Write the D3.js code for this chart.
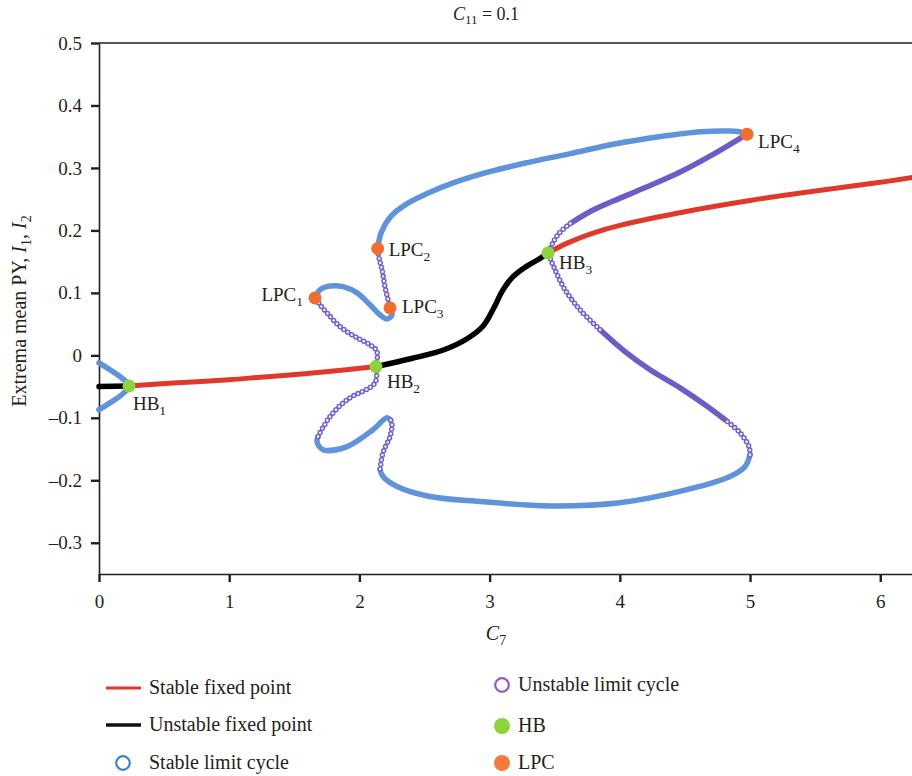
<!DOCTYPE html>
<html>
<head>
  <meta charset="UTF-8">
  <title>Bifurcation diagram C11 = 0.1</title>
  <script src="https://d3js.org/d3.v7.min.js"></script>
  <style>
    body { margin: 0; padding: 0; background: #fff; }
    svg { display: block; font-family: "Liberation Serif", "DejaVu Serif", serif; }
    text { fill: #231f20; }
  </style>
</head>
<body>
<script>
  // ---- data: [C7, extrema] ----
  const xTicks = [0, 1, 2, 3, 4, 5, 6];
  const yTicks = [0.5, 0.4, 0.3, 0.2, 0.1, 0, -0.1, -0.2, -0.3];
  const yTickLabels = ["0.5", "0.4", "0.3", "0.2", "0.1", "0", "\u20130.1", "\u20130.2", "\u20130.3"];

  // fixed points
  const stableFixedA = [[0.23, -0.049], [0.6, -0.044], [1.0, -0.039], [1.24, -0.035], [1.6, -0.029], [1.9, -0.023], [2.127, -0.018]];
  const stableFixedB = [[3.449, 0.164], [3.6, 0.180], [3.8, 0.196], [4.0, 0.208], [4.5, 0.230], [5.0, 0.248],
                        [5.5, 0.263], [6.0, 0.277], [6.25, 0.285]];
  const unstableFixedA = [[0, -0.050], [0.23, -0.049]];
  const unstableFixedB = [[2.127, -0.018], [2.4, -0.005], [2.65, 0.009], [2.83, 0.027], [2.95, 0.047], [3.03, 0.075],
                          [3.1, 0.104], [3.18, 0.126], [3.28, 0.142], [3.37, 0.153], [3.449, 0.164]];

  // stable limit cycles
  const stableCycleHB1 = [[0, -0.012], [0.084, -0.023], [0.174, -0.036], [0.23, -0.049], [0.174, -0.063], [0.084, -0.076], [0, -0.087]];
  const stableCycleLoop = [[1.659, 0.092], [1.697, 0.105], [1.774, 0.111], [1.874, 0.110], [1.982, 0.100], [2.081, 0.081],
                           [2.158, 0.065], [2.212, 0.058], [2.25, 0.065], [2.235, 0.076]];
  const stableCycleUpper = [[2.14, 0.171], [2.17, 0.198], [2.24, 0.222], [2.36, 0.242], [2.52, 0.259], [2.72, 0.276],
                            [3.0, 0.294], [3.3, 0.309], [3.62, 0.323], [3.95, 0.338], [4.3, 0.350], [4.62, 0.358],
                            [4.85, 0.359], [4.977, 0.356]];
  const stableCycleLowA = [[1.682, -0.130], [1.674, -0.138], [1.72, -0.151], [1.905, -0.146], [2.104, -0.119], [2.212, -0.100], [2.24, -0.104]];
  const stableCycleLower = [[2.158, -0.183], [2.181, -0.194], [2.289, -0.210], [2.542, -0.226], [2.926, -0.234], [3.464, -0.241],
                            [4.0, -0.236], [4.516, -0.215], [4.846, -0.194], [4.962, -0.178], [5.0, -0.159]];

  // unstable limit cycles (open circles)
  const unstableCycleUpA = [[2.127, -0.018], [2.135, 0.006], [2.081, 0.017], [1.982, 0.028], [1.851, 0.046], [1.751, 0.068], [1.697, 0.081], [1.659, 0.092]];
  const unstableCycleUpB = [[2.235, 0.076], [2.22, 0.089], [2.196, 0.110], [2.174, 0.137], [2.151, 0.156], [2.14, 0.171]];
  const unstableCycleUpC = [[4.977, 0.354], [4.72, 0.322], [4.46, 0.293], [4.2, 0.269], [3.95, 0.247], [3.78, 0.231], [3.62, 0.211]];
  const unstableCycleUpD = [[3.62, 0.211], [3.54, 0.197], [3.49, 0.182], [3.449, 0.164]];
  const unstableCycleLowA = [[2.127, -0.018], [2.12, -0.044], [1.905, -0.071], [1.774, -0.098], [1.682, -0.130]];
  const unstableCycleLowB = [[2.24, -0.104], [2.25, -0.112], [2.235, -0.130], [2.181, -0.156], [2.158, -0.183]];
  const unstableCycleLowC = [[5.0, -0.159], [4.992, -0.146], [4.923, -0.124], [4.808, -0.103]];
  const unstableCycleLowD = [[4.808, -0.103], [4.654, -0.079], [4.462, -0.052], [4.232, -0.023], [4.04, 0.006], [3.848, 0.041]];
  const unstableCycleLowE = [[3.848, 0.041], [3.694, 0.073], [3.579, 0.105], [3.502, 0.137], [3.449, 0.164]];

  // special points
  const hbPoints = [[0.23, -0.049], [2.127, -0.018], [3.449, 0.164]];
  const hbNames = ["1", "2", "3"];
  const lpcPoints = [[1.659, 0.092], [2.14, 0.171], [2.235, 0.076], [4.977, 0.354]];
  const lpcNames = ["1", "2", "3", "4"];

  const legendLabels = ["Stable fixed point", "Unstable fixed point", "Stable limit cycle",
                        "Unstable limit cycle", "HB", "LPC"];

  // ---- drawing ----
  const width = 912, height = 776;
  const ink = "#231f20";
  const red = "#e0392b", blue = "#6094da", purple = "#6b5cc6", green = "#8dd33c", orange = "#f26d30";

  const svg = d3.select("body").append("svg")
    .attr("width", width)
    .attr("height", height);

  const x = d3.scaleLinear().domain([0, 6.25]).range([99, 912.8]);
  const y = d3.scaleLinear().domain([-0.35, 0.5]).range([574, 43]);

  const line = d3.line()
    .x(d => x(d[0]))
    .y(d => y(d[1]))
    .curve(d3.curveCatmullRom.alpha(0.5));

  // axes
  const yAxis = svg.append("g")
    .attr("transform", "translate(99,0)")
    .call(d3.axisLeft(y).tickValues(yTicks).tickSize(8).tickSizeOuter(0).tickPadding(9)
      .tickFormat((d, i) => yTickLabels[i]));
  const xAxis = svg.append("g")
    .attr("transform", "translate(0,574)")
    .call(d3.axisBottom(x).tickValues(xTicks).tickSize(8).tickSizeOuter(0).tickPadding(13)
      .tickFormat(d3.format("d")));

  [yAxis, xAxis].forEach(a => {
    a.select(".domain").attr("stroke", ink).attr("stroke-width", 1.6);
    a.selectAll(".tick line").attr("stroke", ink).attr("stroke-width", 2.4);
    a.selectAll(".tick text").attr("font-size", 19).attr("font-family", "Liberation Serif").attr("fill", ink);
  });

  svg.append("line")
    .attr("x1", 99).attr("x2", width).attr("y1", 43).attr("y2", 43)
    .attr("stroke", ink).attr("stroke-width", 1.6);

  const plot = svg.append("g");

  function solid(data, color, w) {
    plot.append("path")
      .attr("d", line(data))
      .attr("fill", "none")
      .attr("stroke", color)
      .attr("stroke-width", w)
      .attr("stroke-linecap", "round")
      .attr("stroke-linejoin", "round");
  }

  function rings(data, color, step) {
    const d = line(data);
    plot.append("path").attr("d", d).attr("fill", "none")
      .attr("stroke", color).attr("stroke-width", 5.5)
      .attr("stroke-linecap", "round").attr("stroke-dasharray", `0 ${step}`);
    plot.append("path").attr("d", d).attr("fill", "none")
      .attr("stroke", "#fff").attr("stroke-width", 2.4)
      .attr("stroke-linecap", "round").attr("stroke-dasharray", `0 ${step}`);
  }

  // limit cycles
  [stableCycleHB1, stableCycleLoop, stableCycleUpper, stableCycleLowA, stableCycleLower]
    .forEach(s => solid(s, blue, 5.5));
  [unstableCycleUpC, unstableCycleLowD].forEach(s => solid(s, purple, 5.5));
  [unstableCycleUpA, unstableCycleUpB, unstableCycleUpD, unstableCycleLowA, unstableCycleLowB,
   unstableCycleLowC, unstableCycleLowE].forEach(s => rings(s, "#7563cc", 4.6));

  // fixed points
  [stableFixedA, stableFixedB].forEach(s => solid(s, red, 5));
  [unstableFixedA, unstableFixedB].forEach(s => solid(s, "#000", 5.5));

  // special points
  plot.selectAll("circle.hb").data(hbPoints).join("circle")
    .attr("class", "hb")
    .attr("cx", d => x(d[0])).attr("cy", d => y(d[1])).attr("r", 6.5)
    .attr("fill", green);
  plot.selectAll("circle.lpc").data(lpcPoints).join("circle")
    .attr("class", "lpc")
    .attr("cx", d => x(d[0])).attr("cy", d => y(d[1])).attr("r", 6.5)
    .attr("fill", orange);

  function subLabel(px, py, main, sub, anchor) {
    const t = svg.append("text")
      .attr("x", px).attr("y", py)
      .attr("font-size", 19)
      .attr("text-anchor", anchor || "start");
    t.append("tspan").text(main);
    t.append("tspan").attr("font-size", 13.5).attr("dy", 5).text(sub);
    return t;
  }

  const hbOffsets = [[4, 24], [11, 21], [11, 16]];
  hbPoints.forEach((p, i) => subLabel(x(p[0]) + hbOffsets[i][0], y(p[1]) + hbOffsets[i][1], "HB", hbNames[i]));
  const lpcOffsets = [[-12, 3], [11, 7], [12, 5], [11, 14]];
  lpcPoints.forEach((p, i) => subLabel(x(p[0]) + lpcOffsets[i][0], y(p[1]) + lpcOffsets[i][1], "LPC", lpcNames[i],
    i === 0 ? "end" : "start"));

  // title
  const title = svg.append("text")
    .attr("x", 486).attr("y", 20)
    .attr("text-anchor", "middle")
    .attr("font-size", 18);
  title.append("tspan").attr("font-style", "italic").text("C");
  title.append("tspan").attr("font-size", 13).attr("dy", 4).text("11");
  title.append("tspan").attr("dy", -4).text(" = 0.1");

  // x label
  const xl = svg.append("text")
    .attr("x", 496).attr("y", 640)
    .attr("text-anchor", "middle")
    .attr("font-size", 20);
  xl.append("tspan").attr("font-style", "italic").text("C");
  xl.append("tspan").attr("font-size", 14).attr("dy", 5).text("7");

  // y label
  const yl = svg.append("text")
    .attr("transform", "translate(26,311) rotate(-90)")
    .attr("text-anchor", "middle")
    .attr("font-size", 20);
  yl.append("tspan").text("Extrema mean PY, ");
  yl.append("tspan").attr("font-style", "italic").text("I");
  yl.append("tspan").attr("font-size", 14).attr("dy", 5).text("1");
  yl.append("tspan").attr("dy", -5).text(", ");
  yl.append("tspan").attr("font-style", "italic").text("I");
  yl.append("tspan").attr("font-size", 14).attr("dy", 5).text("2");

  // legend
  const legend = svg.append("g").attr("font-size", 20);
  const leftRows = [688, 725, 763];
  const rightRows = [685, 726, 763];

  legend.append("line").attr("x1", 106).attr("x2", 141).attr("y1", leftRows[0]).attr("y2", leftRows[0])
    .attr("stroke", red).attr("stroke-width", 3);
  legend.append("line").attr("x1", 106).attr("x2", 141).attr("y1", leftRows[1]).attr("y2", leftRows[1])
    .attr("stroke", "#111").attr("stroke-width", 3.5);
  legend.append("circle").attr("cx", 123).attr("cy", leftRows[2]).attr("r", 6.8)
    .attr("fill", "none").attr("stroke", "#3b86c8").attr("stroke-width", 2.2);
  legend.append("circle").attr("cx", 502).attr("cy", rightRows[0]).attr("r", 6.8)
    .attr("fill", "none").attr("stroke", "#9459c8").attr("stroke-width", 2.2);
  legend.append("circle").attr("cx", 502).attr("cy", rightRows[1]).attr("r", 8)
    .attr("fill", green);
  legend.append("circle").attr("cx", 502).attr("cy", rightRows[2]).attr("r", 8)
    .attr("fill", "#f57a3e");

  legendLabels.forEach((lab, i) => {
    const left = i < 3;
    legend.append("text")
      .attr("x", left ? 149 : 518)
      .attr("y", (left ? leftRows[i] : rightRows[i - 3]) + 6)
      .text(lab);
  });
</script>
</body>
</html>
